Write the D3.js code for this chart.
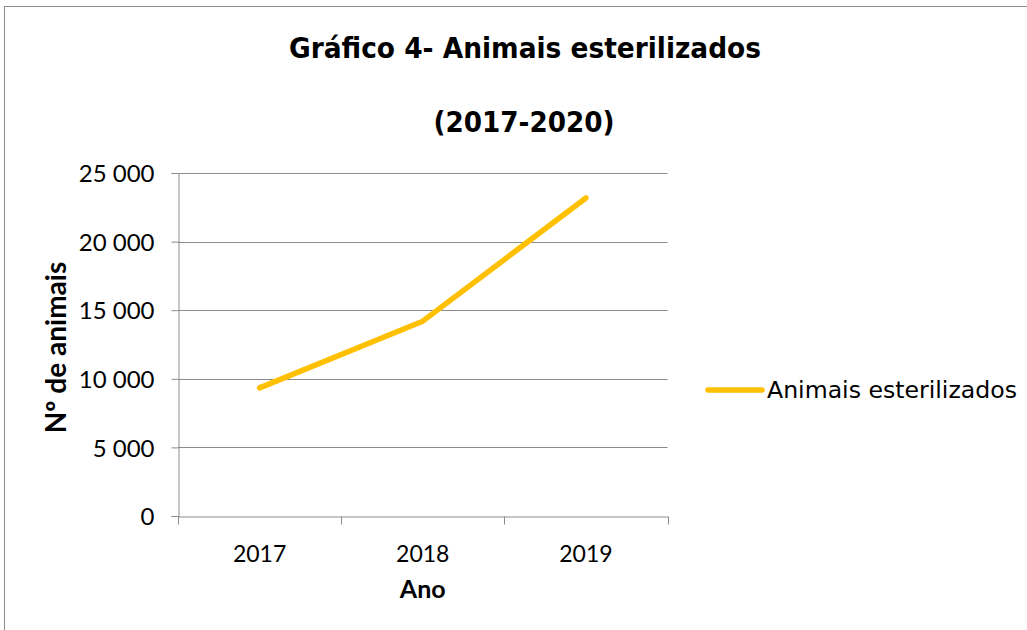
<!DOCTYPE html>
<html>
<head>
<meta charset="utf-8">
<script src="https://cdn.jsdelivr.net/npm/d3@7"></script>
<style>
  body { margin: 0; background: #fff; }
  svg { display: block; }
</style>
</head>
<body>
<div id="chart"></div>
<script>
const years = ["2017", "2018", "2019"];
const sterilized = [9340, 14200, 23180];
const yTicks = [0, 5000, 10000, 15000, 20000, 25000];
const seriesName = "Animais esterilizados";

const width = 1027;
const height = 630;
const margin = { top: 173, right: 360, bottom: 114, left: 178 };

const titleFont = "Tahoma, 'DejaVu Sans Condensed', 'DejaVu Sans', sans-serif";
const axisFont = "Lato, 'Open Sans', sans-serif";

const svg = d3
  .select("#chart")
  .append("svg")
  .attr("width", width)
  .attr("height", height);

// outer chart border
svg
  .append("rect")
  .attr("x", 4.5)
  .attr("y", 6.5)
  .attr("width", width + 10)
  .attr("height", height + 10)
  .attr("fill", "none")
  .attr("stroke", "#8c8c8c");

const x = d3
  .scaleBand()
  .domain(years)
  .range([margin.left, width - margin.right + 0.5]);

const y = d3
  .scaleLinear()
  .domain([0, 25000])
  .range([height - margin.bottom, margin.top]);

// grid lines
svg
  .append("g")
  .selectAll("line")
  .data(yTicks.slice(1))
  .enter()
  .append("line")
  .attr("x1", margin.left)
  .attr("x2", x.range()[1])
  .attr("y1", (d) => Math.round(y(d)) + 0.5)
  .attr("y2", (d) => Math.round(y(d)) + 0.5)
  .attr("stroke", "#8c8c8c")
  .attr("stroke-width", 1);

const fmt = (d) => d3.format(",")(d).replace(/,/g, " ");

const yAxis = svg
  .append("g")
  .attr("transform", `translate(${margin.left + 0.5}, 0)`)
  .call(
    d3.axisLeft(y).tickValues(yTicks).tickFormat(fmt).tickSize(7).tickPadding(17)
  );

const xAxis = svg
  .append("g")
  .attr("transform", `translate(0, ${Math.round(y(0)) + 0.5})`)
  .call(d3.axisBottom(x).tickSize(0).tickPadding(29));

// x ticks sit on category boundaries
xAxis
  .selectAll("line.bound")
  .data([...years.map((d) => x(d)), x.range()[1]])
  .enter()
  .append("line")
  .attr("class", "bound")
  .attr("x1", (d) => Math.round(d) + 0.5)
  .attr("x2", (d) => Math.round(d) + 0.5)
  .attr("y1", 0)
  .attr("y2", 8)
  .attr("stroke", "#8c8c8c");

[yAxis, xAxis].forEach((ax) => {
  ax.select(".domain").attr("stroke", "#8c8c8c");
  ax.selectAll(".tick line").attr("stroke", "#8c8c8c");
  ax.selectAll("text")
    .attr("fill", "#000")
    .style("font-family", axisFont);
});
yAxis.selectAll("text").attr("dy", "0.36em").style("font-size", "24px");
xAxis.selectAll("text").style("font-size", "23px");

// series line
const line = d3
  .line()
  .x((d, i) => x(years[i]) + x.bandwidth() / 2)
  .y((d) => y(d));

svg
  .append("path")
  .datum(sterilized)
  .attr("d", line)
  .attr("fill", "none")
  .attr("stroke", "#FFC000")
  .attr("stroke-width", 5.5)
  .attr("stroke-linecap", "round")
  .attr("stroke-linejoin", "round");

// titles
svg
  .append("text")
  .attr("x", 525)
  .attr("y", 58)
  .attr("text-anchor", "middle")
  .attr("textLength", 472)
  .attr("lengthAdjust", "spacingAndGlyphs")
  .style("font-family", titleFont)
  .style("font-weight", "bold")
  .style("font-size", "29px")
  .text("Gráfico 4- Animais esterilizados");

svg
  .append("text")
  .attr("x", 524)
  .attr("y", 132)
  .attr("text-anchor", "middle")
  .attr("textLength", 181)
  .attr("lengthAdjust", "spacingAndGlyphs")
  .style("font-family", titleFont)
  .style("font-weight", "bold")
  .style("font-size", "29px")
  .text("(2017-2020)");

// axis titles
svg
  .append("text")
  .attr("transform", `translate(66, ${(margin.top + y(0)) / 2 + 3}) rotate(-90)`)
  .attr("text-anchor", "middle")
  .style("font-family", axisFont)
  .style("font-weight", "bold")
  .style("font-size", "28px")
  .text("Nº de animais");

svg
  .append("text")
  .attr("x", x("2018") + x.bandwidth() / 2)
  .attr("y", 598)
  .attr("text-anchor", "middle")
  .style("font-family", axisFont)
  .style("font-weight", "bold")
  .style("font-size", "25px")
  .text("Ano");

// legend
const legend = svg.append("g").attr("transform", "translate(708, 390)");
legend
  .append("line")
  .attr("x1", 0)
  .attr("x2", 54)
  .attr("stroke", "#FFC000")
  .attr("stroke-width", 5.5)
  .attr("stroke-linecap", "round");
legend
  .append("text")
  .attr("x", 59)
  .attr("y", 8)
  .attr("textLength", 250)
  .attr("lengthAdjust", "spacingAndGlyphs")
  .style("font-family", titleFont)
  .style("font-size", "23px")
  .text(seriesName);
</script>
</body>
</html>
